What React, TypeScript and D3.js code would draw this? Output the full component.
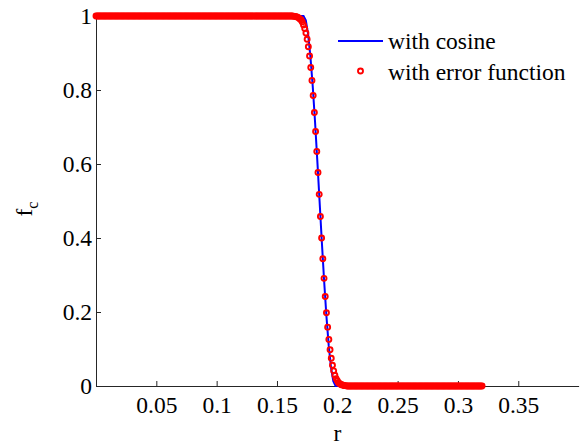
import React, { useEffect, useRef } from "react";
import * as d3 from "d3";

// x ticks / y ticks as printed
const xTicks = [0.05, 0.1, 0.15, 0.2, 0.25, 0.3, 0.35];
const xTickLabels = ["0.05", "0.1", "0.15", "0.2", "0.25", "0.3", "0.35"];
const yTicks = [0, 0.2, 0.4, 0.6, 0.8, 1];
const yTickLabels = ["0", "0.2", "0.4", "0.6", "0.8", "1"];

// cosine cutoff curve (blue line)
const cosR = [0, 0.172, 0.1739, 0.1758, 0.1777, 0.1796, 0.1815, 0.1834, 0.1853, 0.1872,
  0.1891, 0.191, 0.1929, 0.1948, 0.1967, 0.1986, 0.32];
const cosF = [1, 1, 0.988, 0.951, 0.891, 0.812, 0.717, 0.611, 0.5, 0.389,
  0.283, 0.188, 0.109, 0.05, 0.013, 0, 0];

// error function cutoff (red circles), sampled every 0.001 in r from 0 to 0.32
const errStep = 0.001;
const errF = [
  1, 1, 1, 1, 1, 1, 1, 1, 1, 1, 1, 1, 1, 1, 1, 1, 1, 1, 1, 1, 1, 1, 1, 1, 1, 1, 1, 1, 1, 1, 1, 1, 1, 1, 1, 1, 1, 1, 1, 1,
  1, 1, 1, 1, 1, 1, 1, 1, 1, 1, 1, 1, 1, 1, 1, 1, 1, 1, 1, 1, 1, 1, 1, 1, 1, 1, 1, 1, 1, 1, 1, 1, 1, 1, 1, 1, 1, 1, 1, 1,
  1, 1, 1, 1, 1, 1, 1, 1, 1, 1, 1, 1, 1, 1, 1, 1, 1, 1, 1, 1, 1, 1, 1, 1, 1, 1, 1, 1, 1, 1, 1, 1, 1, 1, 1, 1, 1, 1, 1, 1,
  1, 1, 1, 1, 1, 1, 1, 1, 1, 1, 1, 1, 1, 1, 1, 1, 1, 1, 1, 1, 1, 1, 1, 1, 1, 1, 1, 1, 1, 1, 1, 1, 1, 1, 1, 1, 1, 1, 1, 1,
  1, 1, 1, 1, 0.999, 0.999, 0.998, 0.997, 0.995, 0.992,
  0.989, 0.984, 0.976, 0.966, 0.954, 0.937, 0.917, 0.892, 0.861, 0.826,
  0.785, 0.739, 0.688, 0.634, 0.577, 0.518, 0.458, 0.4, 0.344, 0.291,
  0.242, 0.198, 0.159, 0.126, 0.098, 0.075, 0.056, 0.041, 0.029, 0.02,
  0.014, 0.009, 0.006, 0.004, 0.003, 0.002, 0.001, 0.001,
  0, 0, 0, 0, 0, 0, 0, 0, 0, 0, 0, 0, 0, 0, 0, 0, 0, 0, 0, 0, 0, 0, 0, 0, 0, 0, 0, 0, 0, 0, 0, 0, 0, 0, 0, 0, 0, 0, 0, 0,
  0, 0, 0, 0, 0, 0, 0, 0, 0, 0, 0, 0, 0, 0, 0, 0, 0, 0, 0, 0, 0, 0, 0, 0, 0, 0, 0, 0, 0, 0, 0, 0, 0, 0, 0, 0, 0, 0, 0, 0,
  0, 0, 0, 0, 0, 0, 0, 0, 0, 0, 0, 0, 0, 0, 0, 0, 0, 0, 0, 0, 0, 0, 0, 0, 0, 0, 0, 0, 0, 0, 0, 0, 0
];

const legendLabels = ["with cosine", "with error function"];

const App = () => {
  const ref = useRef<HTMLDivElement>(null);

  useEffect(() => {
    const container = ref.current;
    if (!container) return;
    container.innerHTML = "";

    const width = 582;
    const height = 445;
    const font = "Liberation Serif";
    const fontSize = "23.5px";
    const axisColor = "#262626";
    const markR = 2.5;
    const markW = 1.9;

    const x = d3.scaleLinear().domain([0, 0.4]).range([96, 578.6]);
    const y = d3.scaleLinear().domain([0, 1]).range([386, 16]);

    const svg = d3.create("svg")
      .attr("width", width)
      .attr("height", height)
      .style("display", "block")
      .style("background", "#fff");

    // axes (MATLAB style: ticks pointing inward, no box)
    const gx = svg.append("g")
      .attr("transform", `translate(0,${y(0)})`)
      .call(d3.axisBottom(x)
        .tickValues(xTicks)
        .tickFormat((d, i) => xTickLabels[i])
        .tickSizeInner(-5)
        .tickSizeOuter(0)
        .tickPadding(10));

    const gy = svg.append("g")
      .attr("transform", `translate(${x(0)},0)`)
      .call(d3.axisLeft(y)
        .tickValues(yTicks)
        .tickFormat((d, i) => yTickLabels[i])
        .tickSizeInner(-5)
        .tickSizeOuter(0)
        .tickPadding(4));

    [gx, gy].forEach(g => {
      g.select(".domain").attr("stroke", axisColor).attr("stroke-width", 1);
      g.selectAll(".tick line").attr("stroke", axisColor);
      g.selectAll(".tick text")
        .attr("fill", "#000")
        .style("font-family", font)
        .style("font-size", fontSize);
    });

    // blue cosine line
    const line = d3.line<number>()
      .x((d, i) => x(cosR[i]))
      .y(d => y(d));

    svg.append("path")
      .datum(cosF)
      .attr("fill", "none")
      .attr("stroke", "#0000ff")
      .attr("stroke-width", 2)
      .attr("d", line);

    // red circles
    svg.append("g")
      .selectAll("circle")
      .data(errF)
      .join("circle")
      .attr("cx", (d, i) => x(i * errStep))
      .attr("cy", d => y(d))
      .attr("r", markR)
      .attr("fill", "none")
      .attr("stroke", "#ff0000")
      .attr("stroke-width", markW);

    // axis labels
    svg.append("text")
      .attr("x", x(0.2))
      .attr("y", 441)
      .attr("text-anchor", "middle")
      .style("font-family", font)
      .style("font-size", fontSize)
      .text("r");

    const yl = svg.append("text")
      .attr("transform", `translate(32,${y(0.5) + 8}) rotate(-90)`)
      .attr("text-anchor", "middle")
      .style("font-family", font)
      .style("font-size", fontSize);
    yl.append("tspan").text("f");
    yl.append("tspan").attr("dy", 6).style("font-size", "16px").text("c");

    // legend
    const lg = svg.append("g");
    lg.append("line")
      .attr("x1", 338).attr("x2", 383)
      .attr("y1", 41).attr("y2", 41)
      .attr("stroke", "#0000ff").attr("stroke-width", 2);
    lg.append("circle")
      .attr("cx", 360.5).attr("cy", 71)
      .attr("r", markR)
      .attr("fill", "none")
      .attr("stroke", "#ff0000")
      .attr("stroke-width", markW);
    lg.selectAll("text.leg")
      .data(legendLabels)
      .join("text")
      .attr("class", "leg")
      .attr("x", 388)
      .attr("y", (d, i) => 49 + i * 31)
      .style("font-family", font)
      .style("font-size", fontSize)
      .text(d => d);

    container.appendChild(svg.node()!);
  }, []);

  return <div ref={ref} style={{ position: "absolute", left: 0, top: 0 }} />;
};

export default App;
